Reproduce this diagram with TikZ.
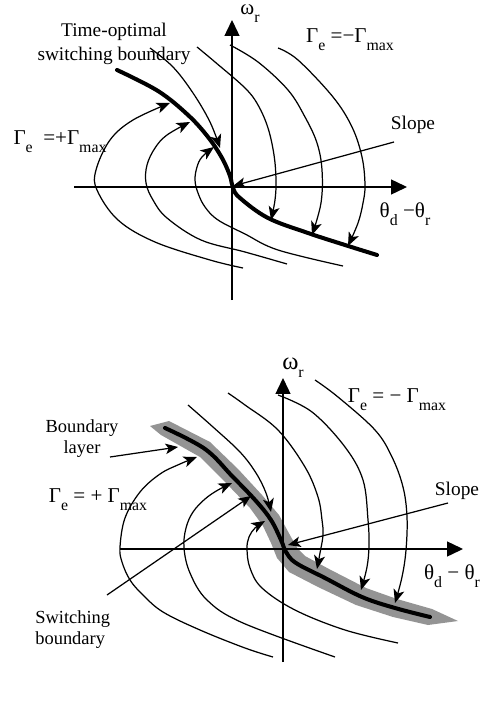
\documentclass[tikz,border=0pt]{standalone}
\usepackage{fontspec}
\setmainfont{Liberation Serif}
\usetikzlibrary{arrows.meta}

\newcommand{\lo}[1]{\raisebox{-4.5pt}{\fontsize{9}{9}\selectfont #1}}

\begin{document}
\begin{tikzpicture}[x=0.02cm, y=-0.02cm,
    traj/.style={line width=0.7pt, line join=round},
    flow/.style={traj, -{Stealth[length=2.7mm, width=2.2mm, inset=0.7mm]}},
    ptr/.style={line width=0.7pt, -{Stealth[length=2.5mm, width=2.1mm, inset=0.6mm]}},
    axis/.style={line width=0.8pt, -{Triangle[length=3.2mm, width=3mm]}},
    swline/.style={line width=2.3pt, line cap=round, line join=round},
    band/.style={fill=black!42},
    txt/.style={font=\fontsize{11}{13.5}\selectfont, align=center, inner sep=0pt},
    sym/.style={font=\fontsize{12}{14}\selectfont, inner sep=0pt}]
  \useasboundingbox (0,0) rectangle (489,705);

  % upper plot: ideal switching
  \draw[axis] (232,300) -- (232,20);
  \draw[axis] (74,187) -- (407,187);
  \coordinate (o1) at (233,186);
  \draw[swline] plot[smooth, tension=0.6] coordinates {(117,70) (158,91) (188,115) (208,137) (222,158) (230,176) (233,188) (240,198) (268,218) (308,233) (345,245) (377,255)};

  \draw[flow] plot[smooth, tension=0.6] coordinates {(243,268) (210,260) (155,242) (118,220) (97,190) (96,170) (110,140) (133,120) (170,103)};
  \draw[flow] plot[smooth, tension=0.6] coordinates {(287,264) (245,252) (201,240) (167,218) (153,200) (146,183) (147,165) (155,148) (167,135) (190,122)};
  \draw[flow] plot[smooth, tension=0.6] coordinates {(343,266) (278,250) (245,234) (218,220) (205,207) (198,193) (195,180) (197,167) (202,157) (214,147)};

  \draw[flow] plot[smooth, tension=0.6] coordinates {(278,48) (298,60) (333,97) (352,127) (362,157) (365,185) (363,203) (358,223) (348,246)};
  \draw[flow] plot[smooth, tension=0.6] coordinates {(230,45) (258,62) (288,90) (305,117) (317,143) (322,170) (321,203) (312,235)};
  \draw[flow] plot[smooth, tension=0.6] coordinates {(197,47) (215,62) (245,88) (258,105) (268,128) (274,155) (276,180) (275,200) (271,220)};
  \draw[flow] plot[smooth, tension=0.6] coordinates {(150,48) (173,67) (193,93) (210,122) (220,148)};

  \node[txt] (tob) at (114,44) {Time-optimal\\switching boundary};
  \node[sym] (wr1) at (250,14) {ω\lo{r}};
  \node[sym] (gneg1) at (350,40) {Γ\lo{e} =−Γ\lo{max}};
  \node[sym] (gpos1) at (60,142) {Γ\lo{e}\ \ =+Γ\lo{max}};
  \node[sym] (th1) at (405,214) {θ\lo{d}\ −θ\lo{r}};
  \node[txt] (slope1) at (413,125) {Slope};
  \coordinate (s1) at (394,142);
  \draw[ptr] (s1) -- (o1);

  % lower plot: boundary layer
  \fill[band] (150,426) -- (169,421) -- (210,442) -- (238,469) -- (262,495) -- (279,515) -- (291,537) -- (298,549) -- (305,556) -- (329,569) -- (366,588) -- (397,599) -- (432,609) -- (458,621) -- (428,625) -- (393,617) -- (356,605) -- (318,587) -- (289,572) -- (277,558) -- (271,543) -- (263,526) -- (250,508) -- (226,483) -- (200,457) -- (161,435) -- cycle;
  \draw[axis] (283,662) -- (283,378);
  \draw[axis] (120,549) -- (463,549);
  \coordinate (o2) at (288,545);
  \draw[swline] plot[smooth, tension=0.6] coordinates {(165,428) (205,449) (232,476) (256,501) (271,520) (281,540) (286,552) (296,563) (325,578) (362,597) (395,608) (430,617)};

  \draw[flow] plot[smooth, tension=0.6] coordinates {(273,657) (245,648) (200,630) (163,612) (143,595) (130,580) (122,562) (120,547) (125,518) (140,492) (160,474) (180,464) (197,457)};
  \draw[flow] plot[smooth, tension=0.6] coordinates {(335,657) (243,623) (207,600) (190,573) (184,548) (186,528) (193,512) (205,499) (218,490) (232,483)};
  \draw[flow] plot[smooth, tension=0.6] coordinates {(398,643) (345,630) (295,610) (262,588) (250,568) (247,549) (249,537) (255,528) (265,521)};

  \draw[flow] plot[smooth, tension=0.6] coordinates {(315,380) (338,397) (375,430) (392,457) (403,487) (407,517) (406,550) (402,577) (395,603)};
  \draw[flow] plot[smooth, tension=0.6] coordinates {(278,395) (312,412) (345,447) (363,480) (368,520) (369,545) (367,567) (361,590)};
  \draw[flow] plot[smooth, tension=0.6] coordinates {(228,393) (245,405) (278,430) (305,467) (318,497) (322,520) (323,535) (320,553) (317,569)};
  \draw[flow] plot[smooth, tension=0.6] coordinates {(188,405) (213,427) (240,452) (256,473) (266,493) (271,512)};

  \node[sym, font=\fontsize{14}{16}\selectfont] (wr2) at (293,368) {ω\lo{r}};
  \node[sym] (gneg2) at (397,400) {Γ\lo{e} = − Γ\lo{max}};
  \node[sym] (gpos2) at (98,500) {Γ\lo{e} = + Γ\lo{max}};
  \node[sym] (th2) at (452,576) {θ\lo{d} − θ\lo{r}};
  \node[txt] (slope2) at (457,491) {Slope};
  \coordinate (s2) at (448,503);
  \draw[ptr] (s2) -- (o2);

  \node[txt, font=\fontsize{10.5}{12}\selectfont] (layer) at (82,439) {Boundary\\layer};
  \coordinate (l1) at (110,457);
  \coordinate (l2) at (178,447);
  \draw[ptr] (l1) -- (l2);

  \node[txt, font=\fontsize{10.5}{12}\selectfont, align=left, anchor=west] (swb) at (35,630) {Switching\\boundary};
  \coordinate (w1) at (107,595);
  \coordinate (w2) at (251,496);
  \draw[ptr] (w1) -- (w2);
\end{tikzpicture}
\end{document}
